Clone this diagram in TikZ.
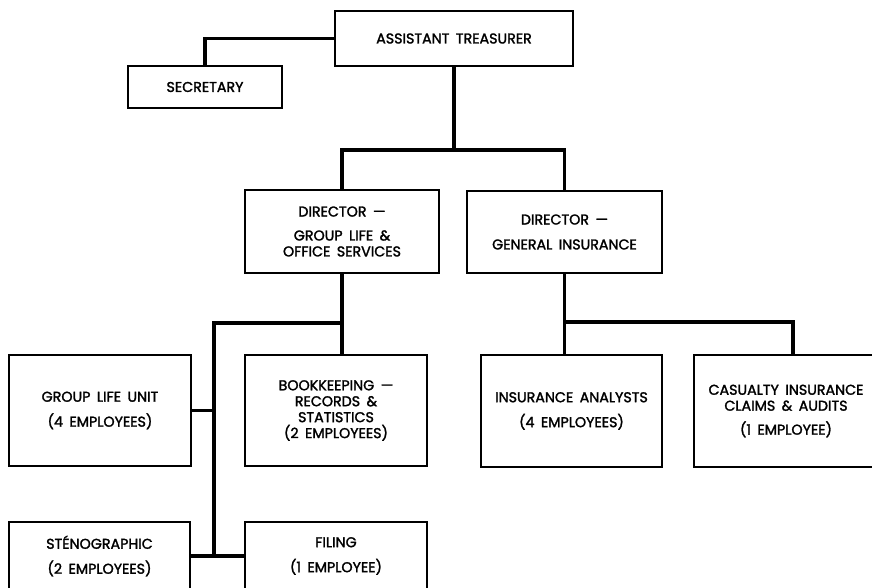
\documentclass[tikz,border=0pt]{standalone}
\usepackage{fontspec}
\newfontfamily\orgfont{Poppins}[FakeBold=1.8,WordSpace=1.7]
\begin{document}
\begin{tikzpicture}[x=1bp,y=-1bp,
  box/.style={draw, line width=1.6bp, inner sep=0pt, align=center,
    font={\orgfont\fontsize{14.3}{16}\selectfont}},
  conn/.style={line width=3.2bp, line cap=rect, line join=miter}]
\useasboundingbox (0,0) rectangle (872,588);
\node[box, minimum width=238bp, minimum height=55bp] (at) at (454,38.5) {ASSISTANT TREASURER};
\node[box, minimum width=154bp, minimum height=42bp] (sec) at (205,87) {SECRETARY};
\node[box, minimum width=194bp, minimum height=83bp] (dgl) at (342,231.5) {DIRECTOR —\\[8bp]GROUP LIFE \&\\OFFICE SERVICES};
\node[box, minimum width=195bp, minimum height=82bp] (dgi) at (564.5,232) {DIRECTOR —\\[9bp]GENERAL INSURANCE};
\node[box, minimum width=182bp, minimum height=111bp] (glu) at (100,410.5) {GROUP LIFE UNIT\\[9bp](4 EMPLOYEES)};
\node[box, minimum width=182bp, minimum height=111bp] (bk) at (336,410.5) {BOOKKEEPING —\\RECORDS \&\\STATISTICS\\(2 EMPLOYEES)};
\node[box, minimum width=181bp, minimum height=112bp] (ia) at (571.5,411) {INSURANCE ANALYSTS\\[9bp](4 EMPLOYEES)};
\node[box, minimum width=184bp, minimum height=112bp] (cas) at (786,411) {CASUALTY INSURANCE\\CLAIMS \& AUDITS\\[8bp](1 EMPLOYEE)};
\node[box, minimum width=181bp, minimum height=68bp] (steno) at (99.5,556) {STÉNOGRAPHIC\\[9bp](2 EMPLOYEES)};
\node[box, minimum width=182bp, minimum height=68bp] (fil) at (336,556) {FILING\\[9bp](1 EMPLOYEE)};
% connectors
\coordinate (b1) at (454,150);
\coordinate (j1) at (214,323);
\coordinate (j2) at (214,556);
\coordinate (j3) at (793,322);
\draw[conn] (at.west) -| (sec.north);
\draw[conn] (at.south) -- (b1);
\draw[conn] (dgl.north) |- (b1) -| (dgi.north);
\draw[conn] (dgl.south) -- (dgl.south |- bk.north);
\draw[conn] (dgl.south |- j1) -- (j1) -- (j2) -- (fil.west);
\draw[conn] (glu.east) -- (glu.east -| j1);
\draw[conn] (steno.east) -- (steno.east -| j1);
\draw[conn] (dgi.south) -- (dgi.south |- ia.north);
\draw[conn] (dgi.south |- j3) -- (j3) -- (j3 |- cas.north);
\end{tikzpicture}
\end{document}
